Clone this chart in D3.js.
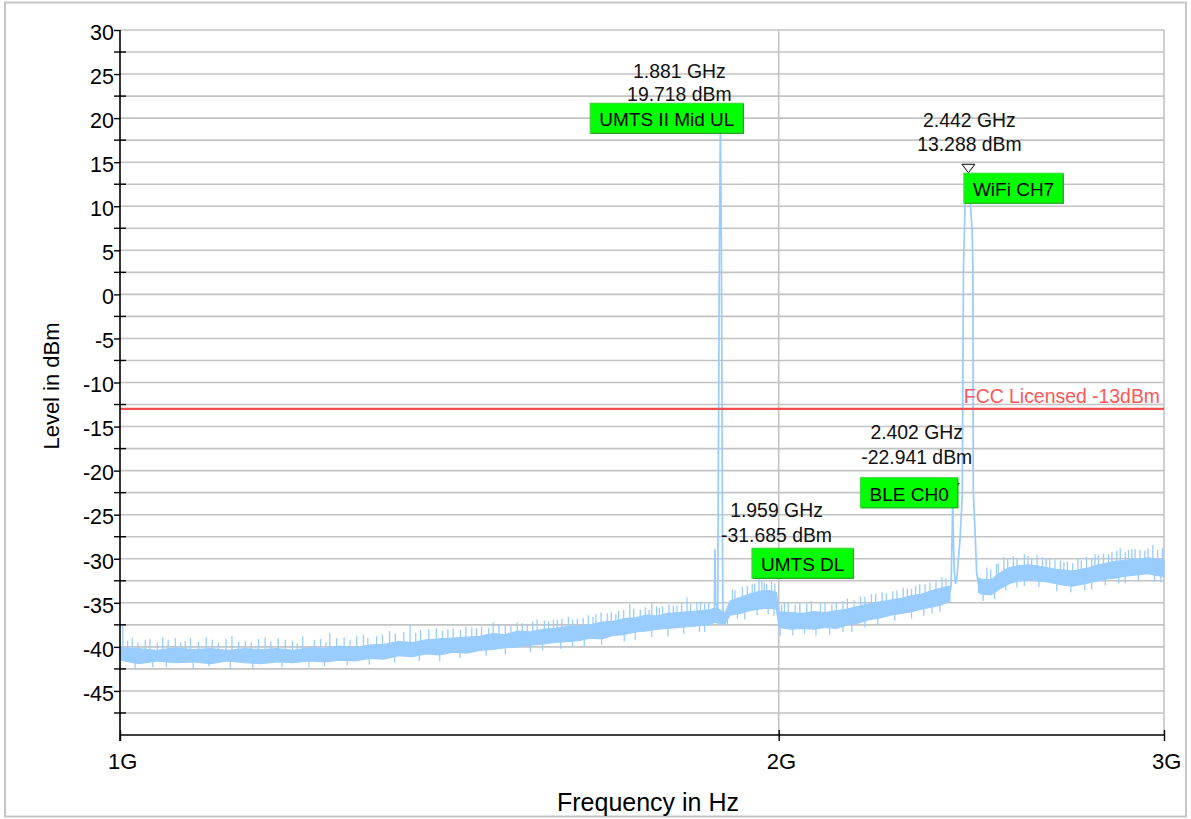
<!DOCTYPE html>
<html>
<head>
<meta charset="utf-8">
<title>Spectrum scan 1 – 3 GHz</title>
<script src="https://cdn.jsdelivr.net/npm/d3@7"></script>
<style>
  html, body { margin: 0; padding: 0; background: #ffffff; }
  svg { display: block; }
</style>
</head>
<body>
<svg id="chart" width="1191" height="819"></svg>
<script>
// ---------------------------------------------------------------------------
// Measured spectrum, frequencies in GHz, levels in dBm
// ---------------------------------------------------------------------------

// Noise floor: lower / upper edge of the trace at each frequency.
// null = no floor reading (the 2.4 GHz ISM burst covers it).
const bandFreq = [
  1.00, 1.02, 1.04, 1.06, 1.08, 1.10, 1.12, 1.14, 1.16, 1.18,
  1.20, 1.22, 1.24, 1.26, 1.28, 1.30, 1.32, 1.34, 1.36, 1.38,
  1.40, 1.42, 1.44, 1.46, 1.48, 1.50, 1.52, 1.54, 1.56, 1.58,
  1.60, 1.62, 1.64, 1.66, 1.68, 1.70, 1.72, 1.74, 1.76, 1.78,
  1.80, 1.82, 1.84, 1.86, 1.87, 1.88, 1.89, 1.90, 1.92, 1.94,
  1.96, 1.98, 1.995, 2.001, 2.025, 2.05, 2.075, 2.10, 2.125, 2.15,
  2.175, 2.20, 2.225, 2.25, 2.275, 2.30, 2.325, 2.35, 2.375, 2.395,
  2.43,
  2.468, 2.475, 2.50, 2.525, 2.55, 2.575, 2.60, 2.625, 2.65, 2.675,
  2.70, 2.725, 2.75, 2.775, 2.80, 2.825, 2.85, 2.875, 2.90, 2.925,
  2.95, 2.975, 3.00
];
const bandLow = [
  -41.5, -41.9, -41.6, -41.8, -41.7, -41.9, -41.6, -41.8, -41.9, -41.7,
  -41.8, -41.6, -41.7, -41.5, -41.6, -41.3, -41.4, -41.0, -41.1, -40.8,
  -40.9, -40.6, -40.7, -40.4, -40.3, -40.1, -40.0, -39.8, -39.7, -39.5,
  -39.4, -39.3, -39.0, -39.1, -38.7, -38.6, -38.3, -38.2, -38.0, -37.9,
  -37.8, -37.7, -37.6, -37.5, -37.2, -37.4, -37.4, -36.4, -36.2, -35.9,
  -35.7, -35.6, -35.7, -37.8, -38.0, -37.9, -38.0, -37.8, -37.9, -37.5,
  -37.3, -36.9, -36.7, -36.4, -36.2, -36.0, -35.7, -35.5, -35.2, -34.8,
  null,
  -33.8, -34.0, -34.1, -33.4, -32.8, -32.5, -32.4, -32.5, -32.6, -32.8,
  -33.0, -33.1, -32.9, -32.7, -32.5, -32.3, -32.2, -32.0, -31.9, -31.8,
  -31.7, -31.9, -32.0
];
const bandHigh = [
  -40.1, -40.2, -40.4, -40.1, -40.3, -40.2, -40.4, -40.2, -40.3, -40.2,
  -40.4, -40.1, -40.2, -39.9, -40.1, -39.8, -39.7, -39.4, -39.5, -39.2,
  -39.1, -39.0, -38.9, -38.8, -38.5, -38.6, -38.2, -38.3, -38.0, -37.9,
  -37.7, -37.6, -37.5, -37.2, -37.1, -36.8, -36.7, -36.4, -36.5, -36.2,
  -36.1, -36.0, -35.9, -35.8, -35.6, -35.8, -36.2, -34.8, -34.4, -34.0,
  -33.7, -33.6, -33.8, -36.0, -36.1, -36.2, -36.0, -36.1, -35.9, -35.7,
  -35.4, -35.1, -34.9, -34.7, -34.5, -34.2, -34.0, -33.6, -33.3, -33.1,
  null,
  -32.2, -32.3, -32.4, -31.6, -31.0, -30.8, -30.7, -30.8, -31.0, -31.2,
  -31.3, -31.4, -31.2, -31.0, -30.7, -30.5, -30.3, -30.2, -30.1, -30.0,
  -29.9, -30.0, -30.2
];

// Single-bin excursions of the trace away from the floor
const spikeFreq = [
  1.003, 1.013, 1.027, 1.046, 1.060, 1.071, 1.095, 1.118, 1.133, 1.165,
  1.190, 1.212, 1.235, 1.247, 1.266, 1.292, 1.310, 1.328, 1.357, 1.372,
  1.395, 1.412, 1.439, 1.455, 1.481, 1.500, 1.519, 1.535, 1.551, 1.570,
  1.584, 1.610, 1.628, 1.650, 1.670, 1.690, 1.710, 1.729, 1.750, 1.770,
  1.790, 1.816, 1.835, 1.850, 1.905, 1.925, 1.945, 1.959, 1.970, 1.985,
  2.012, 2.035, 2.060, 2.090, 2.115, 2.140, 2.165, 2.190, 2.215, 2.240,
  2.265, 2.290, 2.310, 2.333, 2.360, 2.375, 2.490, 2.515, 2.535, 2.560,
  2.590, 2.610, 2.640, 2.660, 2.690, 2.710, 2.740, 2.765, 2.790, 2.815,
  2.840, 2.865, 2.890, 2.910, 2.940, 2.965, 2.995,
  1.008, 1.019, 1.032, 1.040, 1.052, 1.066, 1.077, 1.086, 1.102, 1.109,
  1.125, 1.141, 1.148, 1.157, 1.172, 1.181, 1.199, 1.205, 1.227, 1.242,
  1.256, 1.274, 1.283, 1.298, 1.318, 1.336, 1.348, 1.365, 1.384, 1.404,
  1.420, 1.431, 1.448, 1.463, 1.474, 1.490, 1.509, 1.527, 1.544, 1.563,
  1.578, 1.592, 1.603, 1.618, 1.637, 1.645, 1.659, 1.677, 1.685, 1.699,
  1.717, 1.738, 1.745, 1.759, 1.764, 1.782, 1.797, 1.806, 1.823, 1.842,
  1.858, 1.910, 1.935, 1.950, 1.965, 1.975, 1.992, 2.006, 2.020, 2.045,
  2.070, 2.100, 2.125, 2.150, 2.180, 2.205, 2.230, 2.255, 2.280, 2.300,
  2.320, 2.345, 2.385, 2.500, 2.520, 2.545, 2.570, 2.600, 2.625, 2.650,
  2.675, 2.700, 2.725, 2.750, 2.780, 2.800, 2.830, 2.855, 2.880, 2.900,
  2.925, 2.950, 2.980,
  1.016, 1.035, 1.050, 1.080, 1.098, 1.123, 1.150, 1.186, 1.220, 1.240,
  1.270, 1.300, 1.335, 1.370, 1.400, 1.430, 1.470, 1.500, 1.540, 1.560,
  1.590, 1.610, 1.630, 1.660, 1.700, 1.720, 1.750, 1.780, 1.810, 1.840,
  1.850, 1.895, 1.915, 1.930, 1.955, 1.978, 1.990, 2.003, 2.030, 2.055,
  2.080, 2.110, 2.140, 2.160, 2.190, 2.220, 2.260, 2.300, 2.330, 2.350,
  2.370, 2.480, 2.510, 2.540, 2.570, 2.590, 2.630, 2.680, 2.720, 2.760,
  2.780, 2.820, 2.860, 2.880, 2.920, 2.970, 2.990
];
const spikeLevel = [
  -37.6, -39.0, -39.2, -38.9, -39.0, -39.3, -38.9, -39.1, -39.4, -38.9,
  -39.2, -38.8, -39.1, -38.4, -38.9, -38.6, -38.8, -38.2, -37.5, -38.1,
  -37.9, -38.0, -37.7, -37.9, -37.2, -37.5, -37.2, -37.4, -36.9, -37.1,
  -36.9, -36.9, -36.7, -36.3, -36.2, -35.9, -35.1, -35.8, -35.0, -35.4,
  -35.3, -34.4, -34.9, -35.1, -33.5, -33.2, -32.9, -31.685, -32.7, -32.6,
  -35.0, -35.2, -35.1, -35.0, -35.2, -34.8, -34.7, -34.3, -34.0, -33.9,
  -33.6, -33.4, -33.1, -32.9, -32.6, -32.1, -31.0, -30.6, -29.8, -29.7,
  -29.5, -29.9, -29.8, -30.0, -30.2, -30.3, -30.0, -29.8, -29.5, -29.4,
  -29.2, -28.8, -29.0, -28.9, -29.1, -28.4, -28.8,
  -39.3, -39.5, -39.1, -39.6, -39.2, -39.5, -39.0, -39.4, -39.2, -39.6,
  -38.8, -39.3, -39.5, -39.1, -39.4, -39.0, -39.3, -39.6, -39.2, -39.5,
  -39.0, -39.2, -38.7, -39.0, -38.6, -38.5, -38.3, -38.4, -38.0, -38.2,
  -37.9, -38.1, -37.8, -37.7, -37.9, -37.4, -37.6, -37.3, -37.1, -37.0,
  -36.9, -36.8, -36.6, -36.8, -36.4, -36.6, -36.1, -36.0, -36.3, -35.8,
  -35.7, -35.5, -35.8, -35.4, -35.6, -35.2, -35.3, -35.0, -35.1, -34.9,
  -35.0, -33.6, -33.1, -32.8, -32.4, -32.9, -32.8, -35.2, -34.9, -35.0,
  -34.8, -35.0, -34.9, -34.5, -34.3, -34.0, -33.8, -33.7, -33.3, -33.4,
  -32.9, -32.7, -32.2, -31.2, -30.5, -30.0, -29.9, -29.7, -29.6, -30.0,
  -30.1, -30.4, -30.5, -30.2, -29.9, -29.6, -29.5, -29.1, -29.2, -28.9,
  -29.0, -28.8, -29.0,
  -42.4, -42.3, -42.3, -42.5, -42.2, -42.6, -42.4, -42.3, -42.3, -42.2,
  -42.1, -42.0, -41.8, -41.6, -41.6, -41.3, -41.0, -40.9, -40.6, -40.4,
  -40.2, -40.0, -40.0, -39.8, -39.4, -39.2, -38.9, -38.8, -38.5, -38.3,
  -38.3, -37.5, -36.8, -36.9, -36.4, -36.3, -36.5, -38.8, -38.7, -38.5,
  -38.7, -38.6, -38.3, -38.3, -37.8, -37.5, -37.0, -36.8, -36.5, -36.2,
  -36.0, -34.8, -34.6, -33.6, -33.3, -33.1, -33.2, -33.7, -33.8, -33.6,
  -33.5, -33.0, -32.8, -32.8, -32.5, -32.6, -32.7
];

// UMTS band II uplink carrier (with its close-in spur)
const umtsUlFreq  = [1.8690, 1.8703, 1.8716, 1.8758, 1.8763, 1.8790, 1.881, 1.8830, 1.8852, 1.8860, 1.8890, 1.8920];
const umtsUlLevel = [-35.8, -29.0, -35.0, -36.0, -28.0, 5.0, 19.718, 5.0, -28.0, -35.5, -37.2, -36.0];

// 2.4 GHz ISM band: BLE advertising channel 0 and the WiFi channel 7 burst
const ismFreq = [
  2.394, 2.398, 2.4005, 2.402, 2.4035, 2.406, 2.409, 2.4120, 2.4204, 2.4262,
  2.4292, 2.4332, 2.4370, 2.4420, 2.4450, 2.4474, 2.4515, 2.4536, 2.4544, 2.4589,
  2.4633, 2.4674, 2.4690
];
const ismLevel = [
  -34.0, -33.0, -27.0, -22.941, -27.5, -31.5, -32.8, -32.4, -27.9, -22.9,
  2.8, 10.0, 11.8, 13.288, 12.2, 10.0, 7.3, 2.8, -22.2, -26.7,
  -31.6, -32.8, -33.0
];

// Markers
const markerFreq  = [1.881, 1.959, 2.402, 2.442];
const markerLevel = [19.718, -31.685, -22.941, 13.288];
const markerName  = ["UMTS II Mid UL", "UMTS DL", "BLE CH0", "WiFi CH7"];

// Limit line
const limitLevel = -13;
const limitLabel = "FCC Licensed -13dBm";

// Axes
const freqTicks      = [1, 2, 3];
const freqTickLabels = ["1G", "2G", "3G"];
const levelTicks     = [-45, -40, -35, -30, -25, -20, -15, -10, -5, 0, 5, 10, 15, 20, 25, 30];
const levelMinor     = [-47.5, -42.5, -37.5, -32.5, -27.5, -22.5, -17.5, -12.5, -7.5, -2.5, 2.5, 7.5, 12.5, 17.5, 22.5, 27.5];
const xTitle = "Frequency in Hz";
const yTitle = "Level in dBm";

// ---------------------------------------------------------------------------
// Drawing
// ---------------------------------------------------------------------------
const FONT = "'Liberation Sans', Arial, Helvetica, sans-serif";
const TRACE = "#99ccff";
const GRID = "#c3c3c3";
const LIMIT = "#f24d4d";

const plot = { left: 120, right: 1164, top: 30, bottom: 735 };

const x = d3.scaleLog().domain([1, 3]).range([plot.left, plot.right]);
const y = d3.scaleLinear().domain([-50, 30]).range([plot.bottom, plot.top]);

const svg = d3.select("#chart").attr("font-family", FONT);

// outer frame
svg.append("rect")
  .attr("x", 5).attr("y", 2.5).attr("width", 1181).attr("height", 814)
  .attr("fill", "none").attr("stroke", "#c6c6c6").attr("stroke-width", 2);

// grid
const grid = svg.append("g");
grid.selectAll("line.h")
  .data(levelTicks.concat(levelMinor))
  .join("line")
  .attr("x1", plot.left).attr("x2", plot.right)
  .attr("y1", d => y(d)).attr("y2", d => y(d))
  .attr("stroke", GRID).attr("stroke-width", 1.6);
grid.selectAll("line.v")
  .data(freqTicks.slice(1))
  .join("line")
  .attr("x1", d => x(d)).attr("x2", d => x(d))
  .attr("y1", plot.top).attr("y2", plot.bottom)
  .attr("stroke", GRID).attr("stroke-width", 1.6);

// trace: noise floor band
const band = bandFreq.map((f, i) => ({ f, lo: bandLow[i], hi: bandHigh[i] }));
const bandArea = d3.area()
  .defined(d => d.lo != null && d.hi != null)
  .x(d => x(d.f))
  .y0(d => y(d.lo))
  .y1(d => y(d.hi));
const trace = svg.append("g");
trace.append("path")
  .datum(band)
  .attr("d", bandArea)
  .attr("fill", TRACE)
  .attr("stroke", TRACE)
  .attr("stroke-width", 1.2)
  .attr("stroke-linejoin", "round");

// floor centre at a frequency, for anchoring the single-bin spikes
function floorMid(f) {
  const i = d3.bisectLeft(bandFreq, f);
  const a = band[Math.max(0, i - 1)], b = band[Math.min(band.length - 1, i)];
  if (a.lo == null) return (b.lo + b.hi) / 2;
  if (b.lo == null || a === b) return (a.lo + a.hi) / 2;
  const t = (f - a.f) / (b.f - a.f);
  return ((a.lo + a.hi) / 2) * (1 - t) + ((b.lo + b.hi) / 2) * t;
}
trace.selectAll("line.spike")
  .data(spikeFreq.map((f, i) => ({ f, v: spikeLevel[i] })))
  .join("line")
  .attr("x1", d => x(d.f)).attr("x2", d => x(d.f))
  .attr("y1", d => y(floorMid(d.f))).attr("y2", d => y(d.v))
  .attr("stroke", TRACE).attr("stroke-width", 1.3);

// trace: carriers
const lineGen = d3.line().x(d => x(d.f)).y(d => y(d.v));
[[umtsUlFreq, umtsUlLevel], [ismFreq, ismLevel]].forEach(([fs, vs]) => {
  trace.append("path")
    .datum(fs.map((f, i) => ({ f, v: vs[i] })))
    .attr("d", lineGen)
    .attr("fill", "none")
    .attr("stroke", TRACE)
    .attr("stroke-width", 1.7)
    .attr("stroke-linejoin", "round");
});

// limit line
svg.append("line")
  .attr("x1", plot.left).attr("x2", plot.right)
  .attr("y1", y(limitLevel)).attr("y2", y(limitLevel))
  .attr("stroke", LIMIT).attr("stroke-width", 2.2);
svg.append("text")
  .attr("x", plot.right - 4).attr("y", y(limitLevel) - 5.5)
  .attr("text-anchor", "end")
  .attr("font-size", 19.4)
  .attr("fill", "#ff5757")
  .text(limitLabel);

// y axis
const yAxis = svg.append("g")
  .attr("transform", `translate(${plot.left},0)`)
  .call(d3.axisLeft(y).tickValues(levelTicks).tickSize(6).tickPadding(0).tickFormat(d => String(d)));
yAxis.attr("font-family", FONT).attr("font-size", 21.5);
yAxis.select(".domain").remove();
yAxis.selectAll(".tick line").attr("stroke", "#000").attr("stroke-width", 1.4);
yAxis.selectAll(".tick text").attr("fill", "#000").attr("dy", "0.43em");
yAxis.selectAll("line.minor")
  .data(levelMinor)
  .join("line")
  .attr("class", "minor")
  .attr("x1", -6).attr("x2", 6)
  .attr("y1", d => y(d)).attr("y2", d => y(d))
  .attr("stroke", "#000").attr("stroke-width", 1.4);

// x axis
const xAxis = svg.append("g")
  .attr("transform", `translate(0,${plot.bottom})`)
  .call(d3.axisBottom(x).tickValues(freqTicks).tickSize(6).tickPadding(12)
    .tickFormat((d, i) => freqTickLabels[i]));
xAxis.attr("font-family", FONT).attr("font-size", 22);
xAxis.select(".domain").remove();
xAxis.selectAll(".tick line").attr("y1", -5).attr("stroke", "#000").attr("stroke-width", 1.4);
xAxis.selectAll(".tick text").attr("fill", "#000").attr("dx", "0.1em");

// axis lines
svg.append("line")
  .attr("x1", plot.left).attr("x2", plot.left)
  .attr("y1", plot.top).attr("y2", plot.bottom + 6)
  .attr("stroke", "#000").attr("stroke-width", 1.6);
svg.append("line")
  .attr("x1", plot.left).attr("x2", plot.right)
  .attr("y1", plot.bottom).attr("y2", plot.bottom)
  .attr("stroke", "#000").attr("stroke-width", 1.6);

// axis titles
svg.append("text")
  .attr("x", (plot.left + plot.right) / 2 + 6).attr("y", 810.5)
  .attr("text-anchor", "middle").attr("font-size", 25).attr("fill", "#000")
  .text(xTitle);
svg.append("text")
  .attr("transform", `translate(59,386) rotate(-90)`)
  .attr("text-anchor", "middle").attr("font-size", 22).attr("fill", "#000")
  .text(yTitle);

// marker callouts: readout text, triangle and a green name tag.
// side: which edge of the tag is tied to the marker
const callout = [
  { textDx: -41,  line1Dy: -42.6, line2Dy: -19.6, side: "right", tagDx: 23,   tagDy: -17.3 },
  { textDx: 17.5, line1Dy: -57,   line2Dy: -32,   side: "left",  tagDx: -7,   tagDy: -25.3 },
  { textDx: -36,  line1Dy: -57.5, line2Dy: -32.5, side: "right", tagDx: 5,    tagDy: -18.8 },
  { textDx: 1,    line1Dy: -50,   line2Dy: -26.6, side: "left",  tagDx: -4.5, tagDy: -4   }
];

const marks = svg.append("g");
markerFreq.forEach((f, i) => {
  const mx = x(f), my = y(markerLevel[i]);
  const c = callout[i];
  const g = marks.append("g");

  // marker triangle
  g.append("path")
    .attr("d", `M${mx - 6.5},${my - 13}L${mx + 6.5},${my - 13}L${mx},${my - 4.5}Z`)
    .attr("fill", "#fff").attr("stroke", "#000").attr("stroke-width", 1);

  // readout
  g.append("text")
    .attr("x", mx + c.textDx).attr("y", my + c.line1Dy)
    .attr("text-anchor", "middle").attr("font-size", 19.4).attr("fill", "#111")
    .text(`${f.toFixed(3)} GHz`);
  g.append("text")
    .attr("x", mx + c.textDx).attr("y", my + c.line2Dy)
    .attr("text-anchor", "middle").attr("font-size", 19.4).attr("fill", "#111")
    .text(`${markerLevel[i].toFixed(3)} dBm`);

  // name tag
  const tag = g.append("g");
  const rect = tag.append("rect");
  const label = tag.append("text")
    .attr("font-size", 19).attr("fill", "#000")
    .text(markerName[i]);
  const w = label.node().getComputedTextLength() + 18;
  const h = 30;
  const tx = c.side === "right" ? mx + c.tagDx - w : mx + c.tagDx;
  const ty = my + c.tagDy;
  rect.attr("x", tx).attr("y", ty).attr("width", w).attr("height", h)
    .attr("fill", "#00ff00").attr("stroke", "#3cd83c").attr("stroke-width", 1.2);
  tag.append("path")
    .attr("d", `M${tx + w},${ty + 1}V${ty + h}H${tx + 1}`)
    .attr("fill", "none").attr("stroke", "#22a822").attr("stroke-width", 1.2);
  label.attr("x", tx + 9).attr("y", ty + 22.8);
  label.raise();
});
</script>
</body>
</html>
